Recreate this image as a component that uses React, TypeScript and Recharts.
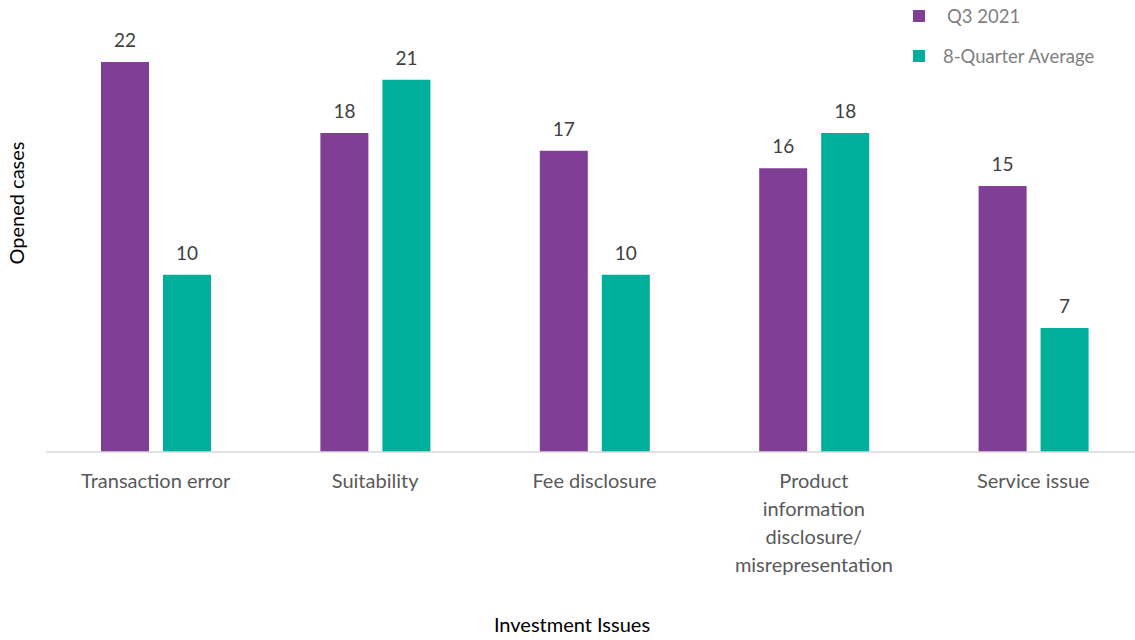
import React from 'react';
import { BarChart, Bar, XAxis, YAxis, LabelList, Legend, Label } from 'recharts';

const categories = [
  'Transaction error',
  'Suitability',
  'Fee disclosure',
  'Product\ninformation\ndisclosure/\nmisrepresentation',
  'Service issue',
];
const q3Values = [22, 18, 17, 16, 15];
const avgValues = [10, 21, 10, 18, 7];
const seriesNames = ['Q3 2021', '8-Quarter Average'];
const colors = ['#803F95', '#00AF9A'];

const data = categories.map((c, i) => ({ name: c, q3: q3Values[i], avg: avgValues[i] }));

const FONT = 'Lato, "Open Sans", sans-serif';

const Tick = (props: any) => {
  const { x, y, payload } = props;
  const lines = String(payload.value).split('\n');
  return (
    <g>
      {lines.map((l: string, i: number) => (
        <text
          key={i}
          x={x}
          y={y + 23 + i * 28}
          textAnchor="middle"
          dominantBaseline="middle"
          fill="#595959"
          fontSize={20}
          fontFamily={FONT}
        >
          {l}
        </text>
      ))}
    </g>
  );
};

const LegendContent = () => (
  <div style={{ fontFamily: FONT, position: 'relative' }}>
    {seriesNames.map((n, i) => (
      <div key={n} style={{ position: 'absolute', left: 0, top: i * 40, height: 12, display: 'flex', alignItems: 'center' }}>
        <div style={{ width: 12, height: 12, background: colors[i] }} />
        <span style={{ marginLeft: i === 0 ? 22 : 18, color: '#7F7F7F', fontSize: 18.5, whiteSpace: 'nowrap', lineHeight: '12px' }}>{n}</span>
      </div>
    ))}
  </div>
);

export default function App() {
  return (
    <div style={{ position: 'absolute', left: 0, top: 0, width: 1135, height: 640, overflow: 'hidden', background: '#fff' }}>
      <BarChart
        width={1150}
        height={640}
        data={data}
        margin={{ top: 62, right: 7, left: 46, bottom: 38 }}
        barCategoryGap="25%"
        barGap={14}
      >
        <XAxis
          dataKey="name"
          height={150}
          tickLine={false}
          axisLine={{ stroke: '#D9D9D9', strokeWidth: 1.5 }}
          tick={<Tick />}
          interval={0}
        >
          <Label
            content={() => (
              <text x={572} y={627} textAnchor="middle" dominantBaseline="middle" fontSize={20} fontFamily={FONT} fill="#000">
                Investment Issues
              </text>
            )}
          />
        </XAxis>
        <YAxis hide domain={[0, 22]} width={0} />
        <Legend
          verticalAlign="middle"
          align="center"
          layout="vertical"
          wrapperStyle={{ position: 'absolute', left: 913, top: 10, width: 220, height: 60 }}
          content={<LegendContent />}
        />
        <Bar dataKey="q3" name={seriesNames[0]} fill={colors[0]} barSize={48} isAnimationActive={false}>
          <LabelList dataKey="q3" position="top" offset={15} fill="#404040" fontSize={19} fontFamily={FONT} />
        </Bar>
        <Bar dataKey="avg" name={seriesNames[1]} fill={colors[1]} barSize={48} isAnimationActive={false}>
          <LabelList dataKey="avg" position="top" offset={15} fill="#404040" fontSize={19} fontFamily={FONT} />
        </Bar>
      </BarChart>
      <svg style={{ position: 'absolute', left: 0, top: 0, pointerEvents: 'none' }} width={60} height={640}>
        <text x={19} y={203} transform="rotate(-90 19 203)" textAnchor="middle" dominantBaseline="middle" fontSize={20} fontFamily={FONT} fill="#000">
          Opened cases
        </text>
      </svg>
    </div>
  );
}
